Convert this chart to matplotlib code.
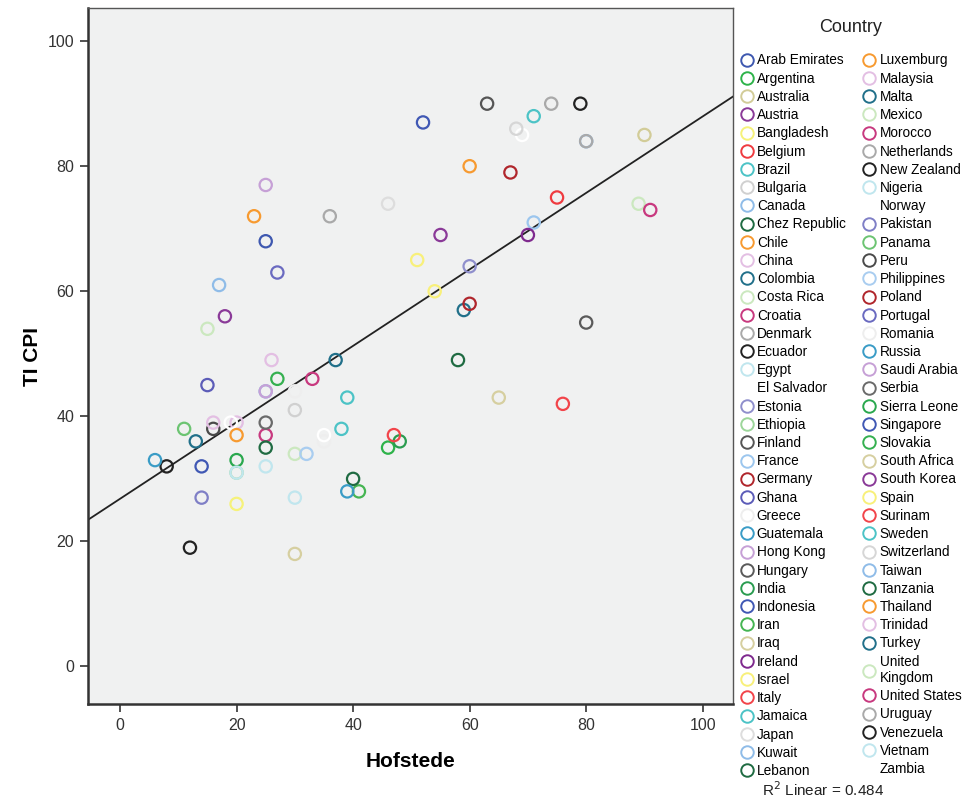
import numpy as np
import matplotlib
matplotlib.use('Agg')
import matplotlib.pyplot as plt
from matplotlib.lines import Line2D

countries = ['Arab Emirates', 'Argentina', 'Australia', 'Austria', 'Bangladesh', 'Belgium', 'Brazil',
             'Bulgaria', 'Canada', 'Chez Republic', 'Chile', 'China', 'Colombia', 'Costa Rica', 'Croatia',
             'Denmark', 'Ecuador', 'Egypt', 'El Salvador', 'Estonia', 'Ethiopia', 'Finland', 'France',
             'Germany', 'Ghana', 'Greece', 'Guatemala', 'Hong Kong', 'Hungary', 'India', 'Indonesia', 'Iran',
             'Iraq', 'Ireland', 'Israel', 'Italy', 'Jamaica', 'Japan', 'Kuwait', 'Lebanon',
             'Luxemburg', 'Malaysia', 'Malta', 'Mexico', 'Morocco', 'Netherlands', 'New Zealand', 'Nigeria',
             'Norway', 'Pakistan', 'Panama', 'Peru', 'Philippines', 'Poland', 'Portugal', 'Romania', 'Russia',
             'Saudi Arabia', 'Serbia', 'Sierra Leone', 'Singapore', 'Slovakia', 'South Africa', 'South Korea',
             'Spain', 'Surinam', 'Sweden', 'Switzerland', 'Taiwan', 'Tanzania', 'Thailand', 'Trinidad',
             'Turkey', 'United\nKingdom', 'United States', 'Uruguay', 'Venezuela', 'Vietnam', 'Zambia']

hofstede = [25, 46, 90, 55, 20, 75, 38, 30, 80, 58, 23, 20, 13, 15, 33,
            74, 8, 25, 19, 60, 20, 63, 71, 67, 15, 35, 6, 25, 80, 48, 14, 41,
            30, 70, 54, 76, 39, 46, 25, 40,
            60, 26, 59, 30, 25, 80, 79, 30, 69, 14, 11, 16, 32, 60, 27, 30, 39,
            25, 25, 20, 52, 27, 65, 18, 51, 47, 71, 68, 17, 25, 20, 16,
            37, 89, 91, 36, 12, 20, 35]

ti_cpi = [68, 35, 85, 69, 26, 75, 38, 41, 84, 49, 72, 39, 36, 54, 46,
          90, 32, 32, 39, 64, 31, 90, 71, 79, 45, 36, 33, 77, 55, 36, 32, 28,
          18, 69, 60, 42, 43, 74, 44, 30,
          80, 49, 57, 34, 37, 84, 90, 27, 85, 27, 38, 38, 34, 58, 63, 44, 28,
          44, 39, 33, 87, 46, 43, 56, 65, 37, 88, 86, 61, 35, 37, 39,
          49, 74, 73, 72, 19, 31, 37]

# marker colours, one per country (white = no marker in legend)
colors = ['#3e58b0', '#2eb34a', '#d2cc98', '#8a3a98', '#f6f27a', '#ef3b40', '#4cc3c6', '#d0d0d0',
          '#8fbce8', '#1f6b42', '#f79a30', '#e3bfe3', '#21708a', '#cbe8bf', '#c8397f', '#a9a9a9',
          '#222222', '#c0e6ee', 'white', '#8f8fcc', '#9cd69a', '#555555', '#9cc6ee', '#b0262c',
          '#5c5cb8', '#eeeeee', '#3a9cc6', '#c6a0d6', '#5a5a5a', '#2a9c50', '#4058b4', '#45b552',
          '#d6cfa0', '#7f2a8e', '#f8f07a', '#f2444a', '#4cc3c6', '#dddddd', '#8fbce8', '#1f6b42',
          '#f79a30', '#e3bfe3', '#21708a', '#cbe8bf', '#c8397f', '#a9a9a9', '#222222', '#c0e6ee',
          'white', '#7f7fc6', '#6cc472', '#4a4a4a', '#a9cdf0', '#b0262c', '#6a6ac0', '#eeeeee',
          '#3a9cc6', '#c6a0d6', '#6a6a6a', '#2aa84e', '#4058b4', '#35b050', '#d6cfa0', '#8a3a98',
          '#f8f07a', '#f2444a', '#4cc3c6', '#d6d6d6', '#8fbce8', '#1f6b42', '#f79a30', '#e3bfe3',
          '#21708a', '#cbe8bf', '#c8397f', '#a9a9a9', '#222222', '#c0e6ee', 'white']

x = np.array(hofstede, dtype=float)
y = np.array(ti_cpi, dtype=float)
slope, intercept = np.polyfit(x, y, 1)
r2 = np.corrcoef(x, y)[0, 1] ** 2

plt.rcParams['font.family'] = ['Liberation Sans', 'DejaVu Sans']

fig = plt.figure(figsize=(9.63, 8.01), dpi=100)
ax = fig.add_axes([88 / 963, 97 / 801, 645 / 963, 696 / 801])
ax.set_facecolor('#f0f1f1')

for xi, yi, c in zip(x, y, colors):
    ax.scatter(xi, yi, s=78, facecolors='none', edgecolors=c, linewidths=1.6, zorder=3)

xl = np.array([-5.5, 105.2])
ax.plot(xl, intercept + slope * xl, color='#222222', lw=1.3, zorder=2)

ax.set_xlim(-5.5, 105.2)
ax.set_ylim(-6, 105.3)
ax.set_xticks([0, 20, 40, 60, 80, 100])
ax.set_yticks([0, 20, 40, 60, 80, 100])
ax.tick_params(direction='out', length=6, width=1.2, color='#333333', labelsize=11.5,
               labelcolor='#333333', pad=4)
for s in ['left', 'bottom']:
    ax.spines[s].set_linewidth(1.8)
    ax.spines[s].set_color('#333333')
for s in ['top', 'right']:
    ax.spines[s].set_linewidth(1.0)
    ax.spines[s].set_color('#555555')

ax.set_xlabel('Hofstede', fontsize=15, fontweight='bold', labelpad=14)
ax.set_ylabel('TI CPI', fontsize=15, fontweight='bold', labelpad=4)

handles = []
for c in colors:
    if c == 'white':
        handles.append(Line2D([], [], ls='none', marker='o', markersize=9,
                              markerfacecolor='none', markeredgecolor='none'))
    else:
        handles.append(Line2D([], [], ls='none', marker='o', markersize=9, markeredgewidth=1.4,
                              markerfacecolor='none', markeredgecolor=c))

leg = fig.legend(handles, countries, ncol=2, loc='upper left', bbox_to_anchor=(735 / 963, 1 - 48 / 801),
                 frameon=False, prop={'size': 9.8},
                 handlelength=0.9, handletextpad=0.3, columnspacing=1.3,
                 labelspacing=0.31, borderaxespad=0)
fig.text(851 / 963, 1 - 28 / 801, 'Country', ha='center', va='center', fontsize=13, color='#222222')
fig.text(762 / 963, 1 - 790 / 801, 'R$^2$ Linear = %.3f' % r2, ha='left', va='center', fontsize=11,
         color='#222222')

fig.savefig('out.png', dpi=100)
